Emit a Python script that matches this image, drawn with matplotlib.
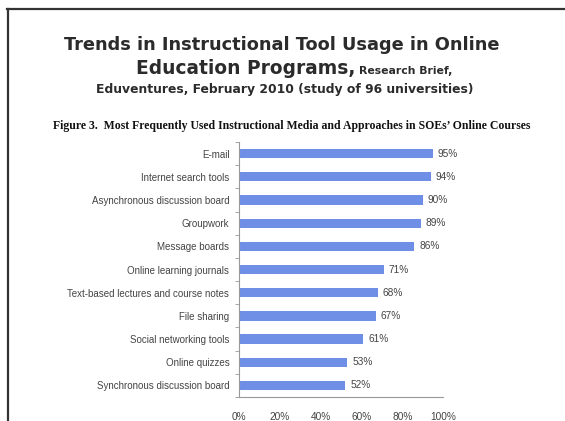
import matplotlib
matplotlib.use("Agg")
import matplotlib.pyplot as plt
from matplotlib.lines import Line2D

categories = ["E-mail", "Internet search tools", "Asynchronous discussion board",
              "Groupwork", "Message boards", "Online learning journals",
              "Text-based lectures and course notes", "File sharing",
              "Social networking tools", "Online quizzes",
              "Synchronous discussion board"]
values = [95, 94, 90, 89, 86, 71, 68, 67, 61, 53, 52]
xticks = [0, 20, 40, 60, 80, 100]

BAR = "#6F8FE6"
TXT = "#444444"
HEAD = "#2b2b2b"

fig = plt.figure(figsize=(5.65, 4.21), dpi=100)
fig.patch.set_facecolor("white")

# scanned-slide frame: top and left rule
fig.add_artist(Line2D([7 / 565, 1], [1 - 9 / 421, 1 - 9 / 421], color="#333", lw=1.6))
fig.add_artist(Line2D([8 / 565, 8 / 565], [0, 1 - 9 / 421], color="#333", lw=1.6))

# headline
fig.text(282 / 565, 1 - 45 / 421, "Trends in Instructional Tool Usage in Online",
         ha="center", va="center", fontsize=12.8, fontweight="bold",
         family="DejaVu Sans", color=HEAD)
fig.text(355 / 565, 1 - 69 / 421, "Education Programs,", ha="right", va="center",
         fontsize=13.4, fontweight="bold", family="DejaVu Sans", color=HEAD)
fig.text(359 / 565, 1 - 71 / 421, "Research Brief,", ha="left", va="center",
         fontsize=7.8, fontweight="bold", family="DejaVu Sans", color=HEAD)
fig.text(285 / 565, 1 - 89 / 421, "Eduventures, February 2010 (study of 96 universities)",
         ha="center", va="center", fontsize=8.9, fontweight="bold",
         family="DejaVu Sans", color=HEAD)
fig.text(292 / 565, 1 - 126 / 421,
         "Figure 3.  Most Frequently Used Instructional Media and Approaches in SOEs\u2019 Online Courses",
         ha="center", va="center", fontsize=8.5, fontweight="bold",
         family="Liberation Serif", color="#111")

ax = fig.add_axes([239 / 565, 24 / 421, 204 / 565, 255 / 421])
y = list(range(len(categories)))
ax.barh(y, values, height=0.4, color=BAR)
for yi, v in zip(y, values):
    ax.text(v + 2.5, yi, f"{v}%", va="center", ha="left", fontsize=7.3, color=TXT,
            family="Liberation Sans")

ax.set_xlim(0, 100)
ax.set_ylim(len(categories) - 0.5, -0.5)
ax.set_yticks(y)
ax.set_yticklabels(categories, fontsize=7, color=TXT, family="Liberation Sans")
ax.set_yticks([i + 0.5 for i in range(-1, len(categories))], minor=True)
ax.tick_params(axis="y", which="major", length=0, pad=7)
ax.tick_params(axis="y", which="minor", length=3, color="#999")
ax.set_xticks(xticks)
ax.set_xticklabels([f"{t}%" for t in xticks], fontsize=7.3, color=TXT,
                   family="Liberation Sans")
ax.tick_params(axis="x", length=0, pad=11)
for s in ["top", "right"]:
    ax.spines[s].set_visible(False)
for s in ["left", "bottom"]:
    ax.spines[s].set_color("#999")
    ax.spines[s].set_linewidth(0.8)

fig.savefig("out.png", dpi=100)
